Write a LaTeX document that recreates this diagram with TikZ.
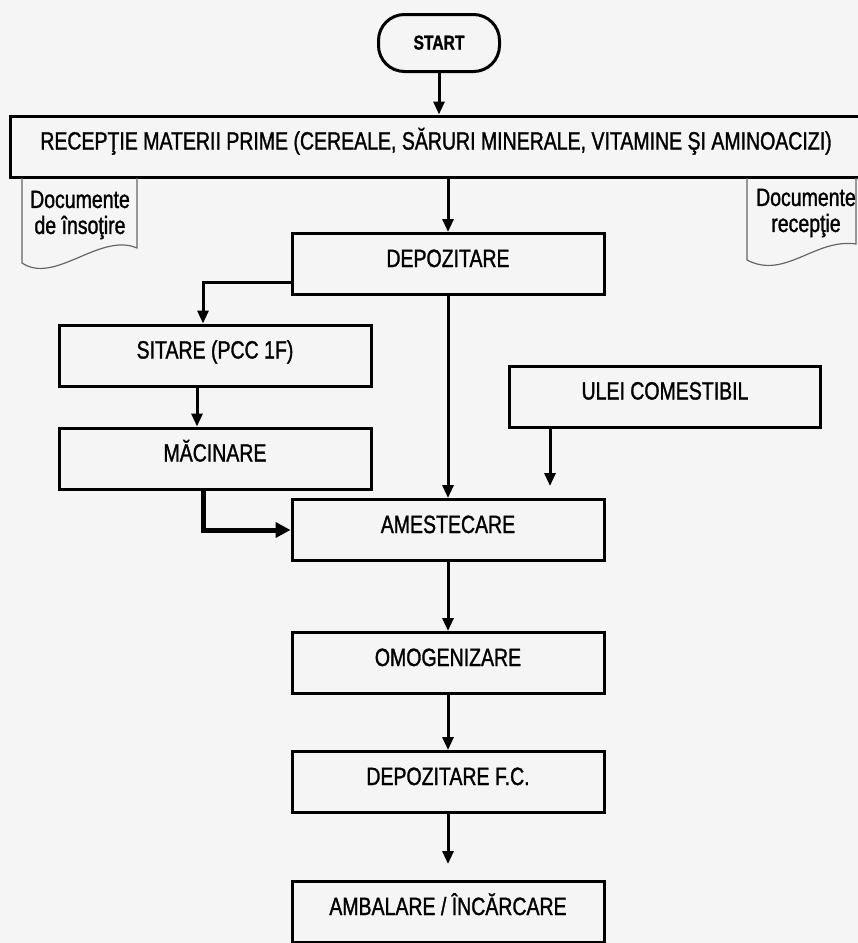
\documentclass[tikz,border=0pt]{standalone}
\usepackage{fontspec}
\newfontfamily\flowfont{Liberation Sans}[FakeStretch=0.78, FakeBold=1.2]
\usetikzlibrary{arrows.meta, positioning}

\tikzset{
	stepbox/.style={draw, line width=3pt, minimum width=312pt, minimum height=61pt, inner sep=0pt,
		text height=18pt, text depth=12pt, font=\flowfont\fontsize{25}{28}\selectfont},
	flow/.style={line width=3pt, -{Triangle[length=13pt,width=11pt]}},
	docline/.style={line width=1.2pt, black!60},
	doctext/.style={align=center, inner sep=0pt, font=\flowfont\fontsize{25}{26}\selectfont}
}

\begin{document}
\begin{tikzpicture}[x=1pt, y=-1pt]
		\fill[black!4] (0,0) rectangle (858,943);
		\useasboundingbox (0,0) rectangle (858,943);

		\node[stepbox, rounded corners=26pt, minimum width=121pt, minimum height=57pt, text height=13pt, text depth=0pt,
			font=\flowfont\bfseries\fontsize{20}{24}\selectfont] (start) at (439,43) {START};
		\node[stepbox, minimum width=852pt] (receptie) at (436,146.5) {RECEPŢIE MATERII PRIME (CEREALE, SĂRURI MINERALE, VITAMINE ŞI AMINOACIZI)};
		\node[stepbox] (depozitare) at (448,264) {DEPOZITARE};
		\node[stepbox] (sitare) at (215,355.5) {SITARE (PCC 1F)};
		\node[stepbox] (macinare) at (215,458.5) {MĂCINARE};
		\node[stepbox, minimum width=311pt] (ulei) at (665,396.5) {ULEI COMESTIBIL};
		\node[stepbox] (amestecare) at (448,530) {AMESTECARE};
		\node[stepbox] (omogenizare) at (448,663) {OMOGENIZARE};
		\node[stepbox] (depozitarefc) at (448,782) {DEPOZITARE F.C.};
		\node[stepbox] (ambalare) at (448,912) {AMBALARE / ÎNCĂRCARE};

		% documente
		\draw[docline] (22,178) -- (22,263) .. controls (55,285) and (100,232) .. (137,248) -- (137,178);
		\draw[docline] (747,178) -- (747,260) .. controls (785,280) and (815,238) .. (856,244) -- (856,178);
		\node[doctext] (docinsotire) at (80,215) {Documente\\de însoţire};
		\node[doctext] (docreceptie) at (806,213) {Documente\\recepţie};

		\coordinate (uleiend) at (550,486);

		\draw[flow] (start.south) -- (receptie.north -| start);
		\draw[flow] (receptie.south -| depozitare) -- (depozitare.north);
		\draw[flow] ([yshift=-18pt]depozitare.west) -| ([xshift=-12pt]sitare.north);
		\draw[flow] ([xshift=-18pt]sitare.south) -- ([xshift=-18pt]macinare.north);
		\draw[flow, line width=5pt, -{Triangle[length=15pt,width=15pt]}] ([xshift=-12pt]macinare.south) |- (amestecare.west);
		\draw[flow] (depozitare) -- (amestecare);
		\draw[flow] (ulei.south -| uleiend) -- (uleiend);
		\draw[flow] (amestecare) -- (omogenizare);
		\draw[flow] (omogenizare) -- (depozitarefc);
		\draw[flow, shorten >=16pt] (depozitarefc) -- (ambalare);
\end{tikzpicture}
\end{document}
